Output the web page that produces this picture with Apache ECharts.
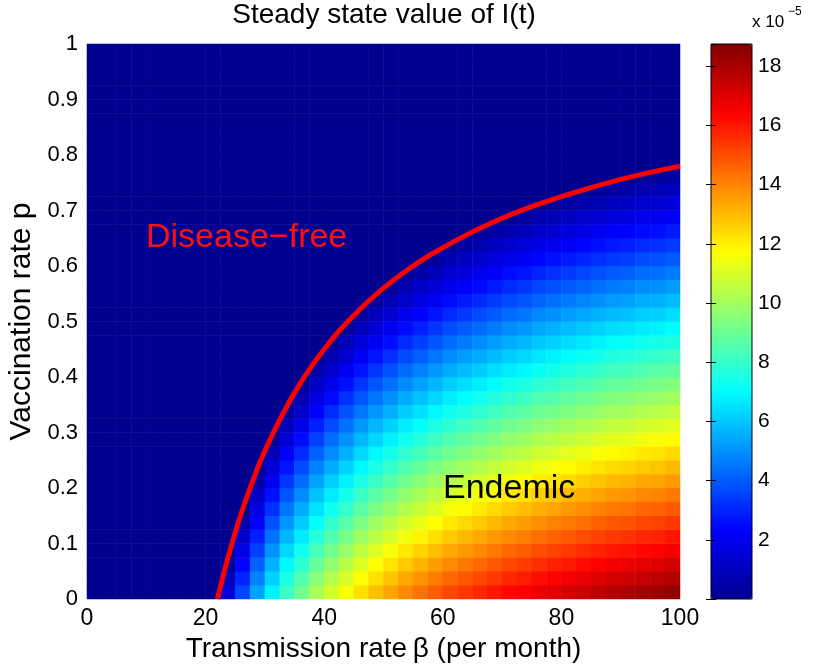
<!DOCTYPE html>
<html><head><meta charset="utf-8">
<script src="https://cdn.jsdelivr.net/npm/echarts@6/dist/echarts.min.js"></script>
<style>html,body{margin:0;padding:0;background:#fff}#c{width:813px;height:666px}</style>
</head><body><div id="c"></div>
<script>
// Cell centres of the read grid (beta step 2.5, p step 0.025)
const betaCenters = [1.25,3.75,6.25,8.75,11.25,13.75,16.25,18.75,21.25,23.75,26.25,28.75,31.25,33.75,36.25,38.75,41.25,43.75,46.25,48.75,51.25,53.75,56.25,58.75,61.25,63.75,66.25,68.75,71.25,73.75,76.25,78.75,81.25,83.75,86.25,88.75,91.25,93.75,96.25,98.75];
const pCenters = [0.0125,0.0375,0.0625,0.0875,0.1125,0.1375,0.1625,0.1875,0.2125,0.2375,0.2625,0.2875,0.3125,0.3375,0.3625,0.3875,0.4125,0.4375,0.4625,0.4875,0.5125,0.5375,0.5625,0.5875,0.6125,0.6375,0.6625,0.6875,0.7125,0.7375,0.7625,0.7875,0.8125,0.8375,0.8625,0.8875,0.9125,0.9375,0.9625,0.9875];
// Steady state I (x 1e-5): one row per p (bottom to top), one column per beta
const steadyI = [
  [0,0,0,0,0,0,0,0,0,1.5,3.6,5.3,6.8,8.1,9.1,10.1,10.9,11.6,12.3,12.9,13.4,13.9,14.3,14.7,15.1,15.4,15.7,16.0,16.3,16.5,16.8,17.0,17.2,17.4,17.6,17.8,17.9,18.1,18.2,18.4],
  [0,0,0,0,0,0,0,0,0,0.9,3.0,4.7,6.2,7.5,8.5,9.5,10.3,11.0,11.7,12.3,12.8,13.3,13.7,14.1,14.5,14.8,15.1,15.4,15.7,15.9,16.2,16.4,16.6,16.8,17.0,17.2,17.3,17.5,17.6,17.8],
  [0,0,0,0,0,0,0,0,0,0.3,2.4,4.1,5.6,6.9,7.9,8.9,9.7,10.4,11.1,11.7,12.2,12.7,13.1,13.5,13.9,14.2,14.5,14.8,15.1,15.3,15.6,15.8,16.0,16.2,16.4,16.6,16.7,16.9,17.0,17.2],
  [0,0,0,0,0,0,0,0,0,0,1.8,3.5,5.0,6.3,7.3,8.3,9.1,9.8,10.5,11.1,11.6,12.1,12.5,12.9,13.3,13.6,13.9,14.2,14.5,14.7,15.0,15.2,15.4,15.6,15.8,16.0,16.1,16.3,16.4,16.6],
  [0,0,0,0,0,0,0,0,0,0,1.2,2.9,4.4,5.7,6.7,7.7,8.5,9.2,9.9,10.5,11.0,11.5,11.9,12.3,12.7,13.0,13.3,13.6,13.9,14.1,14.4,14.6,14.8,15.0,15.2,15.4,15.5,15.7,15.8,16.0],
  [0,0,0,0,0,0,0,0,0,0,0.6,2.3,3.8,5.1,6.1,7.1,7.9,8.6,9.3,9.9,10.4,10.9,11.3,11.7,12.1,12.4,12.7,13.0,13.3,13.5,13.8,14.0,14.2,14.4,14.6,14.8,14.9,15.1,15.2,15.4],
  [0,0,0,0,0,0,0,0,0,0,0,1.7,3.2,4.5,5.5,6.5,7.3,8.0,8.7,9.3,9.8,10.3,10.7,11.1,11.5,11.8,12.1,12.4,12.7,12.9,13.2,13.4,13.6,13.8,14.0,14.2,14.3,14.5,14.6,14.8],
  [0,0,0,0,0,0,0,0,0,0,0,1.1,2.6,3.9,4.9,5.9,6.7,7.4,8.1,8.7,9.2,9.7,10.1,10.5,10.9,11.2,11.5,11.8,12.1,12.3,12.6,12.8,13.0,13.2,13.4,13.6,13.7,13.9,14.0,14.2],
  [0,0,0,0,0,0,0,0,0,0,0,0.5,2.0,3.3,4.3,5.3,6.1,6.8,7.5,8.1,8.6,9.1,9.5,9.9,10.3,10.6,10.9,11.2,11.5,11.7,12.0,12.2,12.4,12.6,12.8,13.0,13.1,13.3,13.4,13.6],
  [0,0,0,0,0,0,0,0,0,0,0,0,1.4,2.7,3.7,4.7,5.5,6.2,6.9,7.5,8.0,8.5,8.9,9.3,9.7,10.0,10.3,10.6,10.9,11.1,11.4,11.6,11.8,12.0,12.2,12.4,12.5,12.7,12.8,13.0],
  [0,0,0,0,0,0,0,0,0,0,0,0,0.8,2.1,3.1,4.1,4.9,5.6,6.3,6.9,7.4,7.9,8.3,8.7,9.1,9.4,9.7,10.0,10.3,10.5,10.8,11.0,11.2,11.4,11.6,11.8,11.9,12.1,12.2,12.4],
  [0,0,0,0,0,0,0,0,0,0,0,0,0.2,1.5,2.5,3.5,4.3,5.0,5.7,6.3,6.8,7.3,7.7,8.1,8.5,8.8,9.1,9.4,9.7,9.9,10.2,10.4,10.6,10.8,11.0,11.2,11.3,11.5,11.6,11.8],
  [0,0,0,0,0,0,0,0,0,0,0,0,0,0.9,1.9,2.9,3.7,4.4,5.1,5.7,6.2,6.7,7.1,7.5,7.9,8.2,8.5,8.8,9.1,9.3,9.6,9.8,10.0,10.2,10.4,10.6,10.7,10.9,11.0,11.2],
  [0,0,0,0,0,0,0,0,0,0,0,0,0,0.3,1.3,2.3,3.1,3.8,4.5,5.1,5.6,6.1,6.5,6.9,7.3,7.6,7.9,8.2,8.5,8.7,9.0,9.2,9.4,9.6,9.8,10.0,10.1,10.3,10.4,10.6],
  [0,0,0,0,0,0,0,0,0,0,0,0,0,0,0.7,1.7,2.5,3.2,3.9,4.5,5.0,5.5,5.9,6.3,6.7,7.0,7.3,7.6,7.9,8.1,8.4,8.6,8.8,9.0,9.2,9.4,9.5,9.7,9.8,10.0],
  [0,0,0,0,0,0,0,0,0,0,0,0,0,0,0.1,1.1,1.9,2.6,3.3,3.9,4.4,4.9,5.3,5.7,6.1,6.4,6.7,7.0,7.3,7.5,7.8,8.0,8.2,8.4,8.6,8.8,8.9,9.1,9.2,9.4],
  [0,0,0,0,0,0,0,0,0,0,0,0,0,0,0,0.5,1.3,2.0,2.7,3.3,3.8,4.3,4.7,5.1,5.5,5.8,6.1,6.4,6.7,6.9,7.2,7.4,7.6,7.8,8.0,8.2,8.3,8.5,8.6,8.8],
  [0,0,0,0,0,0,0,0,0,0,0,0,0,0,0,0,0.7,1.4,2.1,2.7,3.2,3.7,4.1,4.5,4.9,5.2,5.5,5.8,6.1,6.3,6.6,6.8,7.0,7.2,7.4,7.6,7.7,7.9,8.0,8.2],
  [0,0,0,0,0,0,0,0,0,0,0,0,0,0,0,0,0.1,0.8,1.5,2.1,2.6,3.1,3.5,3.9,4.3,4.6,4.9,5.2,5.5,5.7,6.0,6.2,6.4,6.6,6.8,7.0,7.1,7.3,7.4,7.6],
  [0,0,0,0,0,0,0,0,0,0,0,0,0,0,0,0,0,0.2,0.9,1.5,2.0,2.5,2.9,3.3,3.7,4.0,4.3,4.6,4.9,5.1,5.4,5.6,5.8,6.0,6.2,6.4,6.5,6.7,6.8,7.0],
  [0,0,0,0,0,0,0,0,0,0,0,0,0,0,0,0,0,0,0.3,0.9,1.4,1.9,2.3,2.7,3.1,3.4,3.7,4.0,4.3,4.5,4.8,5.0,5.2,5.4,5.6,5.8,5.9,6.1,6.2,6.4],
  [0,0,0,0,0,0,0,0,0,0,0,0,0,0,0,0,0,0,0,0.3,0.8,1.3,1.7,2.1,2.5,2.8,3.1,3.4,3.7,3.9,4.2,4.4,4.6,4.8,5.0,5.2,5.3,5.5,5.6,5.8],
  [0,0,0,0,0,0,0,0,0,0,0,0,0,0,0,0,0,0,0,0,0.2,0.7,1.1,1.5,1.9,2.2,2.5,2.8,3.1,3.3,3.6,3.8,4.0,4.2,4.4,4.6,4.7,4.9,5.0,5.2],
  [0,0,0,0,0,0,0,0,0,0,0,0,0,0,0,0,0,0,0,0,0,0.1,0.5,0.9,1.3,1.6,1.9,2.2,2.5,2.7,3.0,3.2,3.4,3.6,3.8,4.0,4.1,4.3,4.4,4.6],
  [0,0,0,0,0,0,0,0,0,0,0,0,0,0,0,0,0,0,0,0,0,0,0,0.3,0.7,1.0,1.3,1.6,1.9,2.1,2.4,2.6,2.8,3.0,3.2,3.4,3.5,3.7,3.8,4.0],
  [0,0,0,0,0,0,0,0,0,0,0,0,0,0,0,0,0,0,0,0,0,0,0,0,0.1,0.4,0.7,1.0,1.3,1.5,1.8,2.0,2.2,2.4,2.6,2.8,2.9,3.1,3.2,3.4],
  [0,0,0,0,0,0,0,0,0,0,0,0,0,0,0,0,0,0,0,0,0,0,0,0,0,0,0.1,0.4,0.7,0.9,1.2,1.4,1.6,1.8,2.0,2.2,2.3,2.5,2.6,2.8],
  [0,0,0,0,0,0,0,0,0,0,0,0,0,0,0,0,0,0,0,0,0,0,0,0,0,0,0,0,0.1,0.3,0.6,0.8,1.0,1.2,1.4,1.6,1.7,1.9,2.0,2.2],
  [0,0,0,0,0,0,0,0,0,0,0,0,0,0,0,0,0,0,0,0,0,0,0,0,0,0,0,0,0,0,0,0.2,0.4,0.6,0.8,1.0,1.1,1.3,1.4,1.6],
  [0,0,0,0,0,0,0,0,0,0,0,0,0,0,0,0,0,0,0,0,0,0,0,0,0,0,0,0,0,0,0,0,0,0,0.2,0.4,0.5,0.7,0.8,1.0],
  [0,0,0,0,0,0,0,0,0,0,0,0,0,0,0,0,0,0,0,0,0,0,0,0,0,0,0,0,0,0,0,0,0,0,0,0,0,0.1,0.2,0.4],
  [0,0,0,0,0,0,0,0,0,0,0,0,0,0,0,0,0,0,0,0,0,0,0,0,0,0,0,0,0,0,0,0,0,0,0,0,0,0,0,0],
  [0,0,0,0,0,0,0,0,0,0,0,0,0,0,0,0,0,0,0,0,0,0,0,0,0,0,0,0,0,0,0,0,0,0,0,0,0,0,0,0],
  [0,0,0,0,0,0,0,0,0,0,0,0,0,0,0,0,0,0,0,0,0,0,0,0,0,0,0,0,0,0,0,0,0,0,0,0,0,0,0,0],
  [0,0,0,0,0,0,0,0,0,0,0,0,0,0,0,0,0,0,0,0,0,0,0,0,0,0,0,0,0,0,0,0,0,0,0,0,0,0,0,0],
  [0,0,0,0,0,0,0,0,0,0,0,0,0,0,0,0,0,0,0,0,0,0,0,0,0,0,0,0,0,0,0,0,0,0,0,0,0,0,0,0],
  [0,0,0,0,0,0,0,0,0,0,0,0,0,0,0,0,0,0,0,0,0,0,0,0,0,0,0,0,0,0,0,0,0,0,0,0,0,0,0,0],
  [0,0,0,0,0,0,0,0,0,0,0,0,0,0,0,0,0,0,0,0,0,0,0,0,0,0,0,0,0,0,0,0,0,0,0,0,0,0,0,0],
  [0,0,0,0,0,0,0,0,0,0,0,0,0,0,0,0,0,0,0,0,0,0,0,0,0,0,0,0,0,0,0,0,0,0,0,0,0,0,0,0],
  [0,0,0,0,0,0,0,0,0,0,0,0,0,0,0,0,0,0,0,0,0,0,0,0,0,0,0,0,0,0,0,0,0,0,0,0,0,0,0,0]
];
// Red threshold curve
const thresholdBeta = [22,23,24,26,28,30,33,36,40,45,50,55,60,70,80,90,100];
const thresholdP = [0,0.043,0.083,0.154,0.214,0.267,0.333,0.389,0.45,0.511,0.56,0.6,0.633,0.686,0.725,0.756,0.78];
const colorMin = 0, colorMax = 18.75;
const jet = ['#00008F','#0000FF','#0080FF','#00FFFF','#80FF80','#FFFF00','#FF8000','#FF0000','#800000'];

const heatData = [];
steadyI.forEach((row, yi) => row.forEach((v, xi) => heatData.push([xi, yi, v])));
const curve = thresholdBeta.map((b, i) => [b, thresholdP[i]]);

const FONT = "'Liberation Sans', Arial, Helvetica, sans-serif";
const chart = echarts.init(document.getElementById('c'), null, {renderer: 'canvas'});
chart.setOption({
  animation: false,
  backgroundColor: '#fff',
  textStyle: {fontFamily: FONT},
  grid: [
    {left: 87, top: 44, width: 593, height: 555, containLabel: false, outerBoundsMode: 'none'},
    {left: 711, top: 44, width: 41, height: 555, containLabel: false, outerBoundsMode: 'none'}
  ],
  xAxis: [
    {type: 'category', gridIndex: 0, data: betaCenters, show: false},
    {type: 'value', gridIndex: 0, min: 0, max: 100, interval: 20, position: 'bottom',
     axisLine: {show: false}, axisTick: {show: false}, splitLine: {show: false},
     axisLabel: {fontSize: 23, color: '#000', margin: 8, fontFamily: FONT},
     name: 'Transmission rate\u2009β (per month)', nameLocation: 'middle', nameGap: 32,
     nameTextStyle: {fontSize: 28, color: '#000', fontFamily: FONT}},
    {type: 'value', gridIndex: 1, show: false, min: 0, max: 1}
  ],
  yAxis: [
    {type: 'category', gridIndex: 0, data: pCenters, show: false},
    {type: 'value', gridIndex: 0, min: 0, max: 1, interval: 0.1, position: 'left',
     axisLine: {show: false}, axisTick: {show: false}, splitLine: {show: false},
     axisLabel: {fontSize: 22, color: '#000', margin: 9, fontFamily: FONT},
     name: 'Vaccination rate p', nameLocation: 'middle', nameGap: 46,
     nameTextStyle: {fontSize: 30, color: '#000', fontFamily: FONT}},
    {type: 'value', gridIndex: 1, min: colorMin, max: colorMax, interval: 2, position: 'right', z: 10,
     axisLine: {show: false}, splitLine: {show: false},
     axisTick: {show: true, inside: true, length: 5, lineStyle: {color: '#000'}},
     axisLabel: {fontSize: 21, color: '#000', margin: 6, showMaxLabel: false, fontFamily: FONT,
                 formatter: v => v === 0 ? '' : String(v)}},
    {type: 'value', gridIndex: 1, min: colorMin, max: colorMax, interval: 2, position: 'left', z: 10,
     axisLine: {show: false}, splitLine: {show: false}, axisLabel: {show: false},
     axisTick: {show: true, inside: true, length: 5, lineStyle: {color: '#000'}}}
  ],
  visualMap: {
    type: 'continuous', seriesIndex: 0, min: colorMin, max: colorMax, calculable: false,
    left: 711, top: 44, itemWidth: 41, itemHeight: 555, padding: 0, text: null,
    hoverLink: false, inRange: {color: jet}
  },
  series: [
    {type: 'heatmap', xAxisIndex: 0, yAxisIndex: 0, data: heatData, progressive: 0,
     emphasis: {disabled: true}, itemStyle: {borderWidth: 0}},
    {type: 'line', xAxisIndex: 1, yAxisIndex: 1, data: curve, smooth: true, showSymbol: false,
     symbol: 'none', lineStyle: {color: '#FF0000', width: 5}, z: 5, silent: true}
  ],
  graphic: [
    {type: 'text', z: 50, style: {text: 'Steady state value of I(t)', x: 384, y: 15, textAlign: 'center',
      textVerticalAlign: 'middle', font: '28px ' + FONT, fill: '#000'}},
    {type: 'text', z: 50, style: {text: 'Disease\u2212free', x: 146, y: 238, textAlign: 'left',
      textVerticalAlign: 'middle', font: '34px ' + FONT, fill: '#FF1010'}},
    {type: 'text', z: 50, style: {text: 'Endemic', x: 443, y: 489, textAlign: 'left',
      textVerticalAlign: 'middle', font: '34px ' + FONT, fill: '#000'}},
    {type: 'text', z: 50, style: {text: 'x 10', x: 752, y: 22, textAlign: 'left',
      textVerticalAlign: 'middle', font: '17px ' + FONT, fill: '#000'}},
    {type: 'text', z: 50, style: {text: '\u22125', x: 788, y: 12, textAlign: 'left',
      textVerticalAlign: 'middle', font: '12px ' + FONT, fill: '#000'}},
    {type: 'rect', z: 60, shape: {x: 711, y: 44, width: 41, height: 555},
     style: {fill: 'none', stroke: '#000', lineWidth: 1}, silent: true}
  ]
});
</script></body></html>
